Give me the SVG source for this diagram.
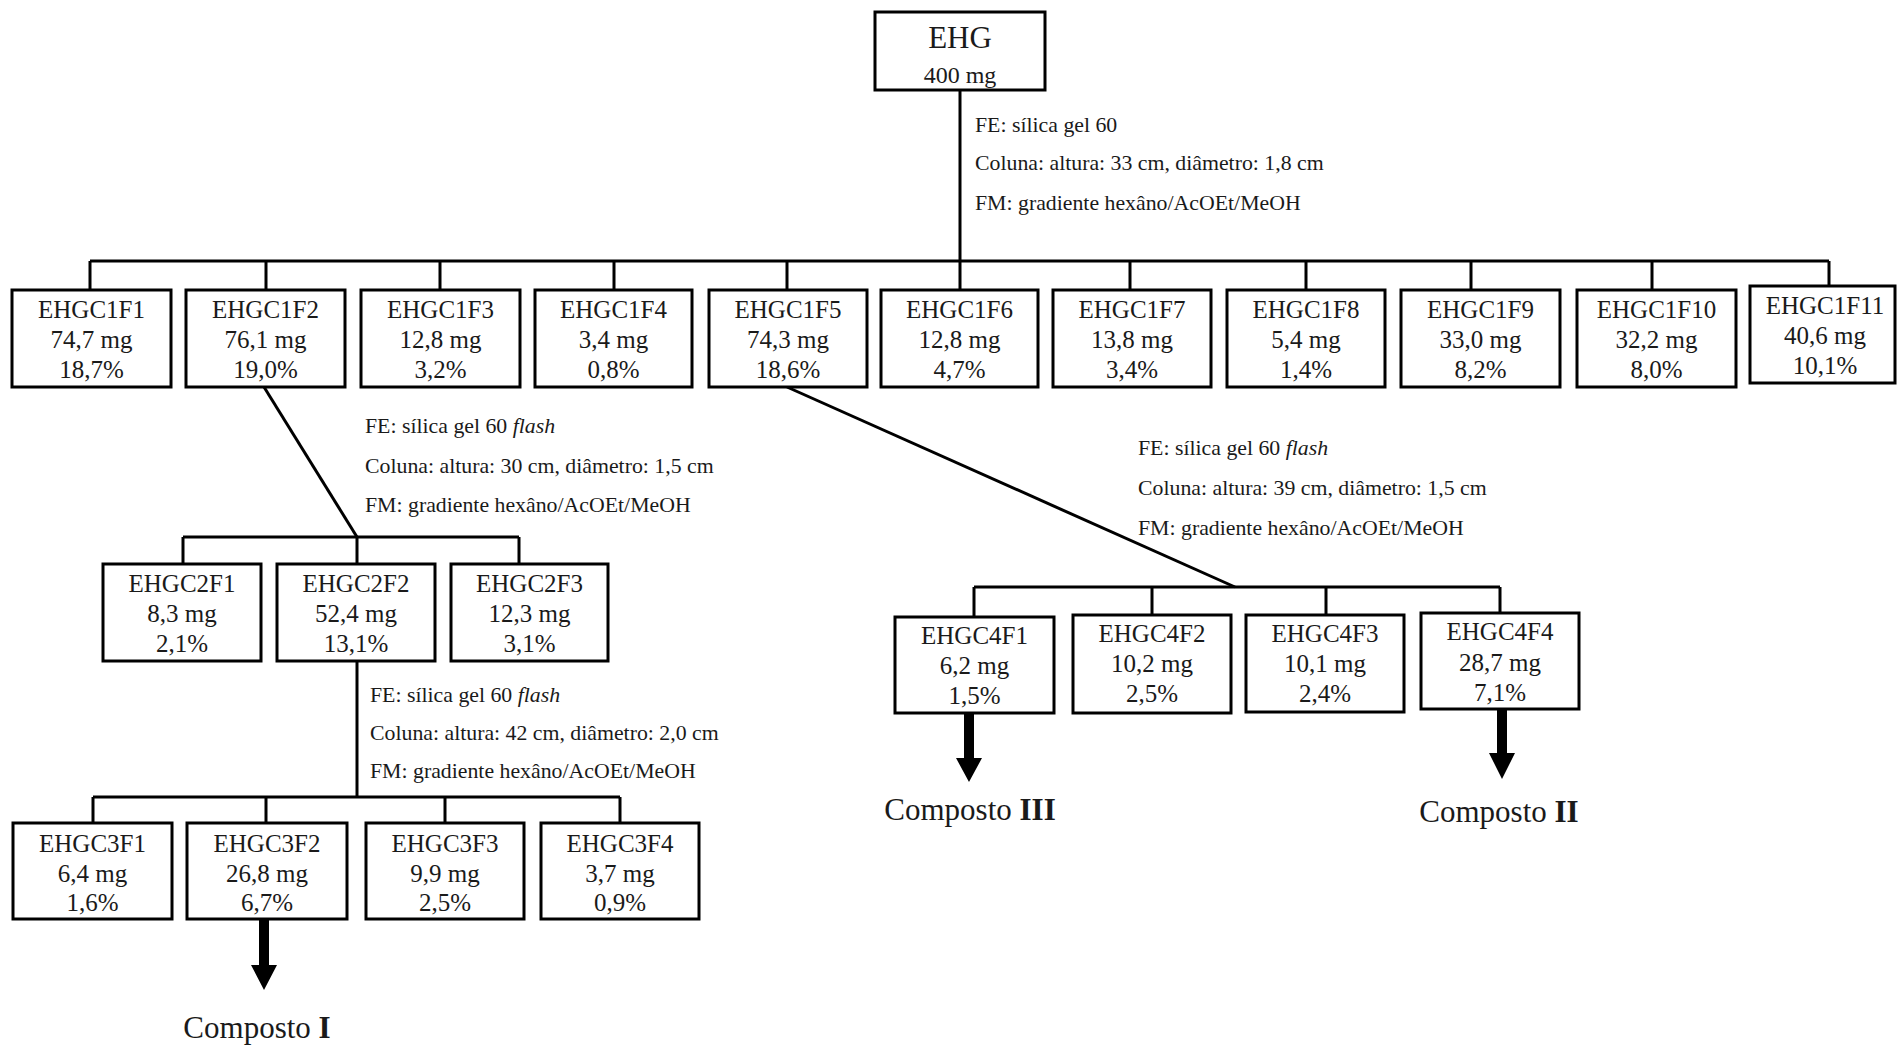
<svg xmlns="http://www.w3.org/2000/svg" width="1897" height="1045" viewBox="0 0 1897 1045">
<style>
  .bg { fill: #ffffff; }
  .box { fill: #ffffff; stroke: #000000; stroke-width: 3; }
  .conn { fill: none; stroke: #000000; stroke-width: 3; }
  .arrow { fill: #000000; stroke: none; }
  text { font-family: "Liberation Serif", "Times New Roman", serif; fill: #1a1a1a; }
  .t { font-size: 25px; text-anchor: middle; }
  .big { font-size: 31px; text-anchor: middle; }
  .ann { font-size: 21.8px; }
  .comp { font-size: 31px; text-anchor: middle; }
</style>
<rect class="bg" x="0" y="0" width="1897" height="1045"/>

<g id="connectors">
  <path class="conn" d="M960,90 V261"/>
  <path class="conn" d="M90,261 H1829"/>
  <path class="conn" d="M90,261 V290 M266,261 V290 M440,261 V290 M614,261 V290 M787,261 V290 M960,261 V290 M1130,261 V290 M1306,261 V290 M1471,261 V290 M1652,261 V290 M1829,261 V286"/>
  <path class="conn" d="M264,387 L357,537"/>
  <path class="conn" d="M183,537 H519 M183,537 V564 M357,537 V564 M519,537 V564"/>
  <path class="conn" d="M357,661 V797"/>
  <path class="conn" d="M93,797 H620 M93,797 V823 M266,797 V823 M445,797 V823 M620,797 V823"/>
  <path class="conn" d="M787,387 L1235,587"/>
  <path class="conn" d="M974,587 H1500 M974,587 V617 M1152,587 V615 M1326,587 V615 M1500,587 V613"/>
  <path class="arrow" d="M259,919 H269 V965 H277 L264,990 L251,965 H259 Z"/>
  <path class="arrow" d="M964,713 H974 V758 H982 L969,782 L956,758 H964 Z"/>
  <path class="arrow" d="M1497,709 H1507 V753 H1515 L1502,779 L1489,753 H1497 Z"/>
</g>

<g id="annotations">
  <text class="ann" x="975" y="132">FE: sílica gel 60</text>
  <text class="ann" x="975" y="170">Coluna: altura: 33 cm, diâmetro: 1,8 cm</text>
  <text class="ann" x="975" y="210">FM: gradiente hexâno/AcOEt/MeOH</text>

  <text class="ann" x="365" y="433">FE: sílica gel 60 <tspan font-style="italic">flash</tspan></text>
  <text class="ann" x="365" y="473">Coluna: altura: 30 cm, diâmetro: 1,5 cm</text>
  <text class="ann" x="365" y="512">FM: gradiente hexâno/AcOEt/MeOH</text>

  <text class="ann" x="370" y="702">FE: sílica gel 60 <tspan font-style="italic">flash</tspan></text>
  <text class="ann" x="370" y="740">Coluna: altura: 42 cm, diâmetro: 2,0 cm</text>
  <text class="ann" x="370" y="778">FM: gradiente hexâno/AcOEt/MeOH</text>

  <text class="ann" x="1138" y="455">FE: sílica gel 60 <tspan font-style="italic">flash</tspan></text>
  <text class="ann" x="1138" y="495">Coluna: altura: 39 cm, diâmetro: 1,5 cm</text>
  <text class="ann" x="1138" y="535">FM: gradiente hexâno/AcOEt/MeOH</text>
</g>

<g id="EHG">
  <rect class="box" x="875" y="12" width="170" height="78"/>
  <text class="big" x="960" y="48">EHG</text>
  <text class="t" x="960" y="83" style="font-size:24px">400 mg</text>
</g>

<g id="EHGC1F1"><rect class="box" x="12" y="290" width="159" height="97"/>
  <text class="t" x="91.5" y="318">EHGC1F1</text><text class="t" x="91.5" y="348">74,7 mg</text><text class="t" x="91.5" y="378">18,7%</text></g>
<g id="EHGC1F2"><rect class="box" x="186" y="290" width="159" height="97"/>
  <text class="t" x="265.5" y="318">EHGC1F2</text><text class="t" x="265.5" y="348">76,1 mg</text><text class="t" x="265.5" y="378">19,0%</text></g>
<g id="EHGC1F3"><rect class="box" x="361" y="290" width="159" height="97"/>
  <text class="t" x="440.5" y="318">EHGC1F3</text><text class="t" x="440.5" y="348">12,8 mg</text><text class="t" x="440.5" y="378">3,2%</text></g>
<g id="EHGC1F4"><rect class="box" x="535" y="290" width="157" height="97"/>
  <text class="t" x="613.5" y="318">EHGC1F4</text><text class="t" x="613.5" y="348">3,4 mg</text><text class="t" x="613.5" y="378">0,8%</text></g>
<g id="EHGC1F5"><rect class="box" x="709" y="290" width="158" height="97"/>
  <text class="t" x="788" y="318">EHGC1F5</text><text class="t" x="788" y="348">74,3 mg</text><text class="t" x="788" y="378">18,6%</text></g>
<g id="EHGC1F6"><rect class="box" x="881" y="290" width="157" height="97"/>
  <text class="t" x="959.5" y="318">EHGC1F6</text><text class="t" x="959.5" y="348">12,8 mg</text><text class="t" x="959.5" y="378">4,7%</text></g>
<g id="EHGC1F7"><rect class="box" x="1053" y="290" width="158" height="97"/>
  <text class="t" x="1132" y="318">EHGC1F7</text><text class="t" x="1132" y="348">13,8 mg</text><text class="t" x="1132" y="378">3,4%</text></g>
<g id="EHGC1F8"><rect class="box" x="1227" y="290" width="158" height="97"/>
  <text class="t" x="1306" y="318">EHGC1F8</text><text class="t" x="1306" y="348">5,4 mg</text><text class="t" x="1306" y="378">1,4%</text></g>
<g id="EHGC1F9"><rect class="box" x="1401" y="290" width="159" height="97"/>
  <text class="t" x="1480.5" y="318">EHGC1F9</text><text class="t" x="1480.5" y="348">33,0 mg</text><text class="t" x="1480.5" y="378">8,2%</text></g>
<g id="EHGC1F10"><rect class="box" x="1577" y="290" width="159" height="97"/>
  <text class="t" x="1656.5" y="318">EHGC1F10</text><text class="t" x="1656.5" y="348">32,2 mg</text><text class="t" x="1656.5" y="378">8,0%</text></g>
<g id="EHGC1F11"><rect class="box" x="1750" y="286" width="145" height="97"/>
  <text class="t" x="1825" y="314">EHGC1F11</text><text class="t" x="1825" y="344">40,6 mg</text><text class="t" x="1825" y="374">10,1%</text></g>

<g id="EHGC2F1"><rect class="box" x="103" y="564" width="158" height="97"/>
  <text class="t" x="182" y="592">EHGC2F1</text><text class="t" x="182" y="622">8,3 mg</text><text class="t" x="182" y="652">2,1%</text></g>
<g id="EHGC2F2"><rect class="box" x="277" y="564" width="158" height="97"/>
  <text class="t" x="356" y="592">EHGC2F2</text><text class="t" x="356" y="622">52,4 mg</text><text class="t" x="356" y="652">13,1%</text></g>
<g id="EHGC2F3"><rect class="box" x="451" y="564" width="157" height="97"/>
  <text class="t" x="529.5" y="592">EHGC2F3</text><text class="t" x="529.5" y="622">12,3 mg</text><text class="t" x="529.5" y="652">3,1%</text></g>

<g id="EHGC3F1"><rect class="box" x="13" y="823" width="159" height="96"/>
  <text class="t" x="92.5" y="852">EHGC3F1</text><text class="t" x="92.5" y="882">6,4 mg</text><text class="t" x="92.5" y="911">1,6%</text></g>
<g id="EHGC3F2"><rect class="box" x="187" y="823" width="160" height="96"/>
  <text class="t" x="267" y="852">EHGC3F2</text><text class="t" x="267" y="882">26,8 mg</text><text class="t" x="267" y="911">6,7%</text></g>
<g id="EHGC3F3"><rect class="box" x="366" y="823" width="158" height="96"/>
  <text class="t" x="445" y="852">EHGC3F3</text><text class="t" x="445" y="882">9,9 mg</text><text class="t" x="445" y="911">2,5%</text></g>
<g id="EHGC3F4"><rect class="box" x="541" y="823" width="158" height="96"/>
  <text class="t" x="620" y="852">EHGC3F4</text><text class="t" x="620" y="882">3,7 mg</text><text class="t" x="620" y="911">0,9%</text></g>

<g id="EHGC4F1"><rect class="box" x="895" y="617" width="159" height="96"/>
  <text class="t" x="974.5" y="644">EHGC4F1</text><text class="t" x="974.5" y="674">6,2 mg</text><text class="t" x="974.5" y="704">1,5%</text></g>
<g id="EHGC4F2"><rect class="box" x="1073" y="615" width="158" height="98"/>
  <text class="t" x="1152" y="642">EHGC4F2</text><text class="t" x="1152" y="672">10,2 mg</text><text class="t" x="1152" y="702">2,5%</text></g>
<g id="EHGC4F3"><rect class="box" x="1246" y="615" width="158" height="97"/>
  <text class="t" x="1325" y="642">EHGC4F3</text><text class="t" x="1325" y="672">10,1 mg</text><text class="t" x="1325" y="702">2,4%</text></g>
<g id="EHGC4F4"><rect class="box" x="1421" y="613" width="158" height="96"/>
  <text class="t" x="1500" y="640">EHGC4F4</text><text class="t" x="1500" y="671">28,7 mg</text><text class="t" x="1500" y="701">7,1%</text></g>

<g id="CompostoI"><text class="comp" x="257" y="1038">Composto <tspan font-weight="bold">I</tspan></text></g>
<g id="CompostoIII"><text class="comp" x="970" y="820">Composto <tspan font-weight="bold">III</tspan></text></g>
<g id="CompostoII"><text class="comp" x="1499" y="822">Composto <tspan font-weight="bold">II</tspan></text></g>
</svg>
